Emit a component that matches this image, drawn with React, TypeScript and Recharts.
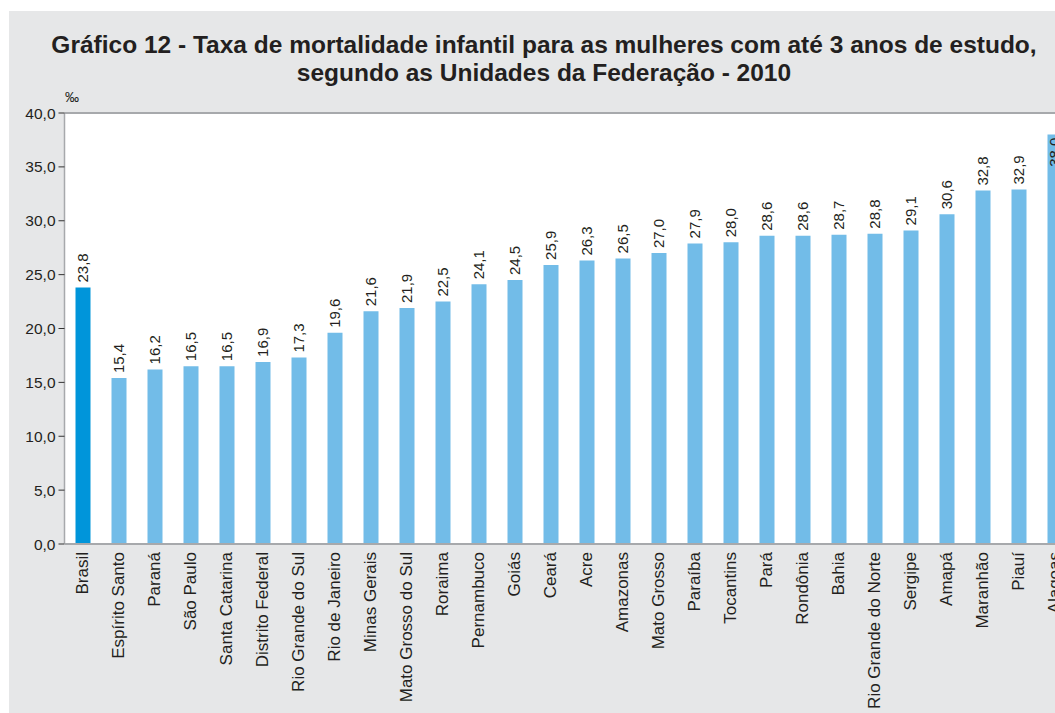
import { Bar, BarChart, CartesianGrid, Cell, LabelList, ReferenceLine, XAxis, YAxis } from 'recharts';

const categories = [
  'Brasil', 'Espírito Santo', 'Paraná', 'São Paulo', 'Santa Catarina', 'Distrito Federal',
  'Rio Grande do Sul', 'Rio de Janeiro', 'Minas Gerais', 'Mato Grosso do Sul', 'Roraima',
  'Pernambuco', 'Goiás', 'Ceará', 'Acre', 'Amazonas', 'Mato Grosso', 'Paraíba', 'Tocantins',
  'Pará', 'Rondônia', 'Bahia', 'Rio Grande do Norte', 'Sergipe', 'Amapá', 'Maranhão', 'Piauí',
  'Alagoas',
];

const values = [
  23.8, 15.4, 16.2, 16.5, 16.5, 16.9, 17.3, 19.6, 21.6, 21.9, 22.5, 24.1, 24.5, 25.9,
  26.3, 26.5, 27.0, 27.9, 28.0, 28.6, 28.6, 28.7, 28.8, 29.1, 30.6, 32.8, 32.9, 38.0,
];

const yTicks = [0, 5, 10, 15, 20, 25, 30, 35, 40];

const data = categories.map((name, i) => ({ name, value: values[i] }));

const fmt = (v: number) => v.toFixed(1).replace('.', ',');

const FONT = '"Liberation Sans", Arial, sans-serif';
const PLOT_TOP = 113;

function ValueLabel(props: any) {
  const { x, y, width, value } = props;
  const cx = x + width / 2;
  const text = fmt(Number(value));
  const approxLen = text.length * 8;
  const inside = y - 5 - approxLen < PLOT_TOP;
  const ay = inside ? y + 3 : y - 5;
  return (
    <text
      x={cx}
      y={ay}
      transform={`rotate(-90 ${cx} ${ay})`}
      textAnchor={inside ? 'end' : 'start'}
      dy="0.35em"
      fontSize={15}
      fill="#231f20"
      fontFamily={FONT}
    >
      {text}
    </text>
  );
}

function CategoryTick(props: any) {
  const { x, y, payload } = props;
  return (
    <text
      x={x}
      y={y}
      transform={`rotate(-90 ${x} ${y})`}
      textAnchor="end"
      dy="0.35em"
      fontSize={17}
      fill="#231f20"
      fontFamily={FONT}
    >
      {payload.value}
    </text>
  );
}

export default function App() {
  return (
    <div
      style={{
        position: 'fixed',
        left: 0,
        top: 0,
        width: 1055,
        height: 713,
        overflow: 'hidden',
        background: '#fff',
        fontFamily: FONT,
      }}
    >
      <div style={{ position: 'absolute', left: 9, top: 11, width: 1120, height: 720, background: '#e6e7e8' }} />
      <div
        style={{
          position: 'absolute',
          left: 8,
          top: 31,
          width: 1072,
          textAlign: 'center',
          fontSize: 24.5,
          lineHeight: '28px',
          fontWeight: 'bold',
          color: '#231f20',
          whiteSpace: 'nowrap',
        }}
      >
        Gráfico 12 - Taxa de mortalidade infantil para as mulheres com até 3 anos de estudo,
        <br />
        segundo as Unidades da Federação - 2010
      </div>
      <div style={{ position: 'absolute', left: 65, top: 89, fontSize: 14, color: '#231f20' }}>‰</div>
      <div style={{ position: 'absolute', left: 0, top: 0 }}>
        <BarChart
          width={1090}
          height={713}
          data={data}
          margin={{ top: PLOT_TOP, right: 17.5, bottom: 0, left: 0 }}
        >
          <CartesianGrid horizontal={false} vertical={false} fill="#ffffff" />
          <YAxis
            domain={[0, 40]}
            ticks={yTicks}
            tickFormatter={fmt}
            width={64.5}
            axisLine={{ stroke: '#a7a9ac', strokeWidth: 1.5 }}
            tickLine={{ stroke: '#333333' }}
            tickSize={6}
            tickMargin={3}
            tick={{ fill: '#231f20', fontSize: 15.5, fontFamily: FONT }}
          />
          <XAxis
            dataKey="name"
            interval={0}
            height={169}
            tickLine={false}
            axisLine={{ stroke: '#a7a9ac', strokeWidth: 2 }}
            tick={<CategoryTick />}
          />
          <ReferenceLine y={40} stroke="#a7a9ac" strokeWidth={2} />
          <Bar dataKey="value" barSize={15} isAnimationActive={false}>
            {data.map((d, i) => (
              <Cell key={d.name} fill={i === 0 ? '#0095da' : '#72bce8'} />
            ))}
            <LabelList dataKey="value" content={<ValueLabel />} />
          </Bar>
        </BarChart>
      </div>
    </div>
  );
}
